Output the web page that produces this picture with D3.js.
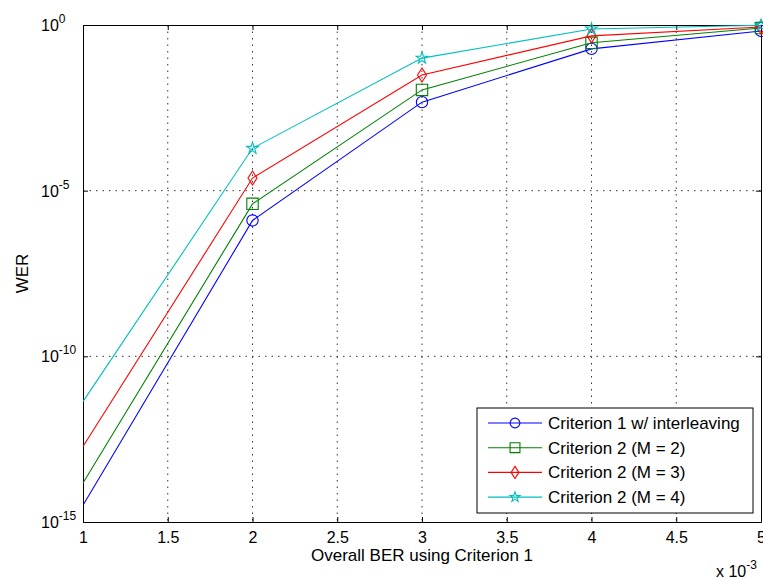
<!DOCTYPE html>
<html><head><meta charset="utf-8">
<script src="https://cdn.jsdelivr.net/npm/d3@7"></script>
<style>body{margin:0;background:#fff;} text{font-family:"Liberation Sans",Arial,sans-serif;}</style>
</head><body>
<svg id="c" width="763" height="580"></svg>
<script>
const xValues = [1, 2, 3, 4, 5]; // x 10^-3
const seriesNames = ["Criterion 1 w/ interleaving","Criterion 2 (M = 2)","Criterion 2 (M = 3)","Criterion 2 (M = 4)"];
const crit1Interleaving = [3.2e-15, 1.26e-6, 4.7e-3, 0.19, 0.66];
const crit2M2 = [1.5e-14, 4.0e-6, 0.011, 0.29, 0.81];
const crit2M3 = [1.9e-13, 2.4e-5, 0.031, 0.47, 0.87];
const crit2M4 = [4.3e-12, 1.9e-4, 0.10, 0.76, 0.98];
const xTicks = [1, 1.5, 2, 2.5, 3, 3.5, 4, 4.5, 5];
const yTickExps = [0, -5, -10, -15];

const colors = ["#0000ff", "#008000", "#ff0000", "#00bfbf"];
const markers = ["circle", "square", "diamond", "star"];
const allSeries = [crit1Interleaving, crit2M2, crit2M3, crit2M4];

const svg = d3.select("#c");
const L = 83, R = 761, T = 25, B = 522;
const x = d3.scaleLinear().domain([1, 5]).range([L, R]);
const y = d3.scaleLog().domain([1e-15, 1]).range([B, T]);

// grid
const grid = svg.append("g").attr("stroke", "#333").attr("stroke-width", 1).attr("stroke-dasharray", "1.5,5");
xTicks.slice(1, -1).forEach(t => grid.append("line").attr("x1", x(t)).attr("x2", x(t)).attr("y1", T).attr("y2", B));
yTickExps.slice(1, -1).forEach(e => grid.append("line").attr("x1", L).attr("x2", R).attr("y1", y(Math.pow(10, e))).attr("y2", y(Math.pow(10, e))));

// axes with inward ticks
const xAxisB = d3.axisBottom(x).tickValues(xTicks).tickSizeInner(-5).tickSizeOuter(0).tickPadding(10).tickFormat(d3.format("~g"));
const xAxisT = d3.axisTop(x).tickValues(xTicks).tickSizeInner(-5).tickSizeOuter(0).tickFormat("");
const yTicks = yTickExps.map(e => Math.pow(10, e));
const yAxisL = d3.axisLeft(y).tickValues(yTicks).tickSizeInner(-5).tickSizeOuter(0).tickFormat("");
const yAxisR = d3.axisRight(y).tickValues(yTicks).tickSizeInner(-5).tickSizeOuter(0).tickFormat("");

function style(g){ g.select(".domain").attr("stroke","#000"); g.selectAll(".tick line").attr("stroke","#000"); g.selectAll("text").attr("font-size", 16).attr("fill","#000").attr("font-family","Liberation Sans, Arial, sans-serif"); }
svg.append("g").attr("transform", `translate(0,${B})`).call(xAxisB).call(style);
svg.append("g").attr("transform", `translate(0,${T})`).call(xAxisT).call(style);
svg.append("g").attr("transform", `translate(${L},0)`).call(yAxisL).call(style);
svg.append("g").attr("transform", `translate(${R},0)`).call(yAxisR).call(style);

// y tick labels 10^e
yTickExps.forEach(e => {
  const t = svg.append("text").attr("x", 41).attr("y", y(Math.pow(10, e)) + 6).attr("text-anchor", "start").attr("font-size", 16).attr("fill", "#000");
  t.append("tspan").text("10");
  t.append("tspan").text(e).attr("font-size", 12).attr("dy", -8);
});

// axis labels
svg.append("text").attr("x", (L + R) / 2).attr("y", 561).attr("text-anchor", "middle").attr("font-size", 17).text("Overall BER using Criterion 1");
svg.append("text").attr("transform", `translate(28,${(T + B) / 2}) rotate(-90)`).attr("text-anchor", "middle").attr("font-size", 17).text("WER");
const xm = svg.append("text").attr("x", 716).attr("y", 577).attr("font-size", 16);
xm.append("tspan").text("x 10");
xm.append("tspan").text("-3").attr("font-size", 12).attr("dy", -8);

// clip
svg.append("clipPath").attr("id", "clip").append("rect").attr("x", L).attr("y", T).attr("width", R - L).attr("height", B - T);

const line = d3.line().x((d, i) => x(xValues[i])).y(d => y(d));

function symbolPath(type, scale) {
  scale = scale || 1;
  if (type === "circle") return d3.symbol(d3.symbolCircle, 100 * scale)();
  if (type === "square") return d3.symbol(d3.symbolSquare, 130 * scale)();
  if (type === "diamond") { const a = 4.5 * Math.sqrt(scale), b = 7 * Math.sqrt(scale); return `M0,${-b}L${a},0L0,${b}L${-a},0Z`; }
  return d3.symbol(d3.symbolStar, 42 * scale)();
}

allSeries.forEach((s, k) => {
  svg.append("path").datum(s).attr("d", line).attr("fill", "none").attr("stroke", colors[k]).attr("stroke-width", 1.1).attr("clip-path", "url(#clip)");
  svg.append("g").selectAll("path").data(s.slice(1)).join("path")
    .attr("transform", (d, i) => `translate(${x(xValues[i + 1])},${y(d)})`)
    .attr("d", symbolPath(markers[k])).attr("fill", "none").attr("stroke", colors[k]).attr("stroke-width", 1.1);
});

// legend
const lg = svg.append("g");
lg.append("rect").attr("x", 477).attr("y", 408).attr("width", 276).attr("height", 105).attr("fill", "#fff").attr("stroke", "#000");
seriesNames.forEach((n, k) => {
  const yy = 423 + k * 24.7;
  lg.append("line").attr("x1", 488).attr("x2", 542).attr("y1", yy).attr("y2", yy).attr("stroke", colors[k]).attr("stroke-width", 1.1);
  lg.append("path").attr("transform", `translate(515,${yy})`).attr("d", symbolPath(markers[k], 0.75)).attr("fill", "none").attr("stroke", colors[k]).attr("stroke-width", 1.1);
  lg.append("text").attr("x", 548).attr("y", yy + 6).attr("font-size", 17).text(n);
});
</script>
</body></html>
